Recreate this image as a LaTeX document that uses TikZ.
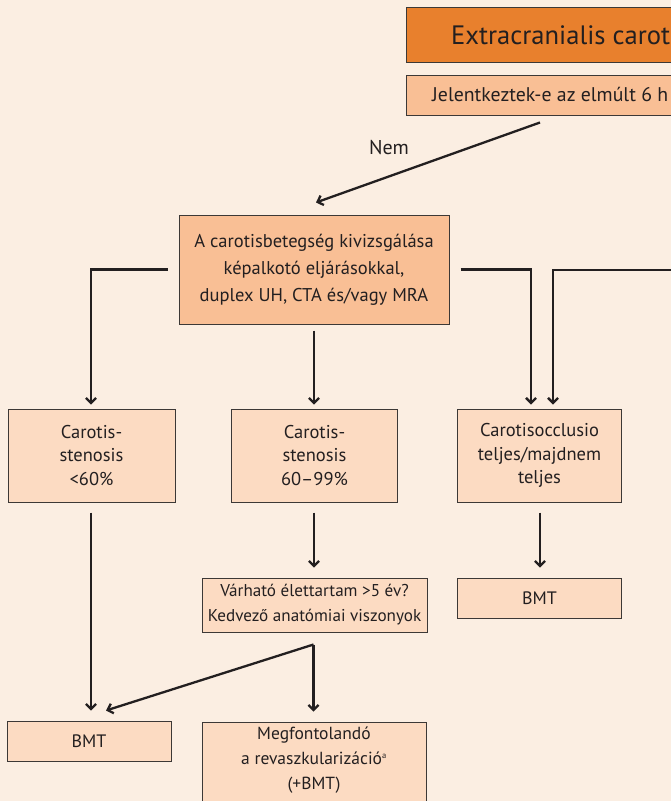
\documentclass[tikz,border=0pt]{standalone}
\usepackage{fontspec}
\setmainfont{PT Sans}[Ligatures=NoCommon]
\usetikzlibrary{arrows.meta,calc}
\definecolor{bg}{HTML}{FBEEE2}
\definecolor{titleor}{HTML}{E8802D}
\definecolor{peach}{HTML}{F9BF95}
\definecolor{lightpeach}{HTML}{FCDBC2}
\definecolor{ink}{HTML}{231F20}
\definecolor{edge}{HTML}{3C3836}
\tikzset{
  box/.style={draw=edge, line width=1pt, fill=lightpeach, text=ink,
              align=center, inner sep=0pt},
  lbl/.style={text=ink, inner sep=0pt},
  link/.style={draw=ink, line width=2.3pt,
               -{Straight Barb[length=5pt,width=10pt]}},
  mainfont/.style={font=\fontsize{18.5}{27}\selectfont},
  midfont/.style={font=\fontsize{18.5}{23.5}\selectfont},
  smallfont/.style={font=\fontsize{17.1}{25}\selectfont},
}
\begin{document}
\begin{tikzpicture}[x=1pt,y=-1pt]
\useasboundingbox (0,0) rectangle (671,801);
\clip (0,0) rectangle (671,801);
\fill[bg] (0,0) rectangle (671,801);

% header boxes running off the right edge
\node[box, fill=titleor, minimum width=300pt, minimum height=55pt] (title) at (556,34.5) {};
\node[lbl, anchor=base west, font=\fontsize{26.6}{32}\selectfont] (titletext) at (451,44.5) {Extracranialis carot};
\node[box, fill=peach, minimum width=268pt, minimum height=40pt] (jel) at (540,95) {};
\node[lbl, anchor=base west, font=\fontsize{19.8}{22}\selectfont] (jeltext) at (432,101.5) {Jelentkeztek-e az elmúlt 6 h};

% imaging step
\node[box, fill=peach, minimum width=270pt, minimum height=109pt, mainfont] (main) at (314,269.5)
  {A carotisbetegség kivizsgálása\\képalkotó eljárásokkal,\\duplex UH, CTA és/vagy MRA};

% findings
\node[box, minimum width=167pt, minimum height=93pt, midfont] (c1) at (91.5,455.5)
  {Carotis-\\stenosis\\<60\%};
\node[box, minimum width=166pt, minimum height=93pt, midfont] (c2) at (314.5,455.5)
  {Carotis-\\stenosis\\60–99\%};
\node[box, minimum width=164pt, minimum height=93pt, midfont] (c3) at (539.5,455.5)
  {Carotisocclusio\\teljes/majdnem\\teljes};

% next steps
\node[box, minimum width=225pt, minimum height=54pt, smallfont] (var) at (314.5,605)
  {Várható élettartam >5 év?\\Kedvező anatómiai viszonyok};
\node[box, minimum width=164pt, minimum height=40pt, font=\fontsize{18}{20}\selectfont] (bmt3) at (539.5,598) {BMT};
\node[box, minimum width=164pt, minimum height=40pt, font=\fontsize{18}{20}\selectfont] (bmt1) at (89,741) {BMT};
\node[box, minimum width=224pt, minimum height=110pt] (meg) at (314,777) {};
\node[lbl, anchor=north, align=center, font=\fontsize{17.5}{25}\selectfont] (megtext) at (314,727)
  {Megfontolandó\\a revaszkularizáció\textsuperscript{\fontsize{8.5}{9}\selectfont a}\\(+BMT)};

% connectors
\node[lbl, font=\fontsize{20}{22}\selectfont] (nem) at (389,148) {Nem};
\draw[link] ($(jel.south)+(0,7)$) -- ($(main.north)+(2,-12)$);
\draw[link] ($(main.west)+(-11,0)$) -| ($(c1.north)+(-0.5,-4)$);
\draw[link] ($(main.south)+(0,6)$) -- ($(c2.north)+(-0.5,-4)$);
\draw[link] ($(main.east)+(11,0)$) -| ($(c3.north)+(-8.5,-4)$);
\coordinate (fromright) at (690,270);
\draw[link] (fromright) -| ($(c3.north)+(13.5,-4)$);
\draw[link] ($(c1.south)+(-0.5,10)$) -- ($(c1.south |- bmt1.north)+(-0.5,-10)$);
\draw[link] ($(c2.south)+(-0.5,10)$) -- ($(var.north)+(-0.5,-10)$);
\draw[link] ($(c3.south)+(0.5,10)$) -- ($(bmt3.north)+(0.5,-10)$);
\coordinate (varout) at ($(var.south)+(-1,12)$);
\draw[link] (varout) -- ($(bmt1.north)+(17,-10)$);
\draw[link] (varout) -- ($(varout |- meg.north)+(0,-10)$);
\end{tikzpicture}
\end{document}
